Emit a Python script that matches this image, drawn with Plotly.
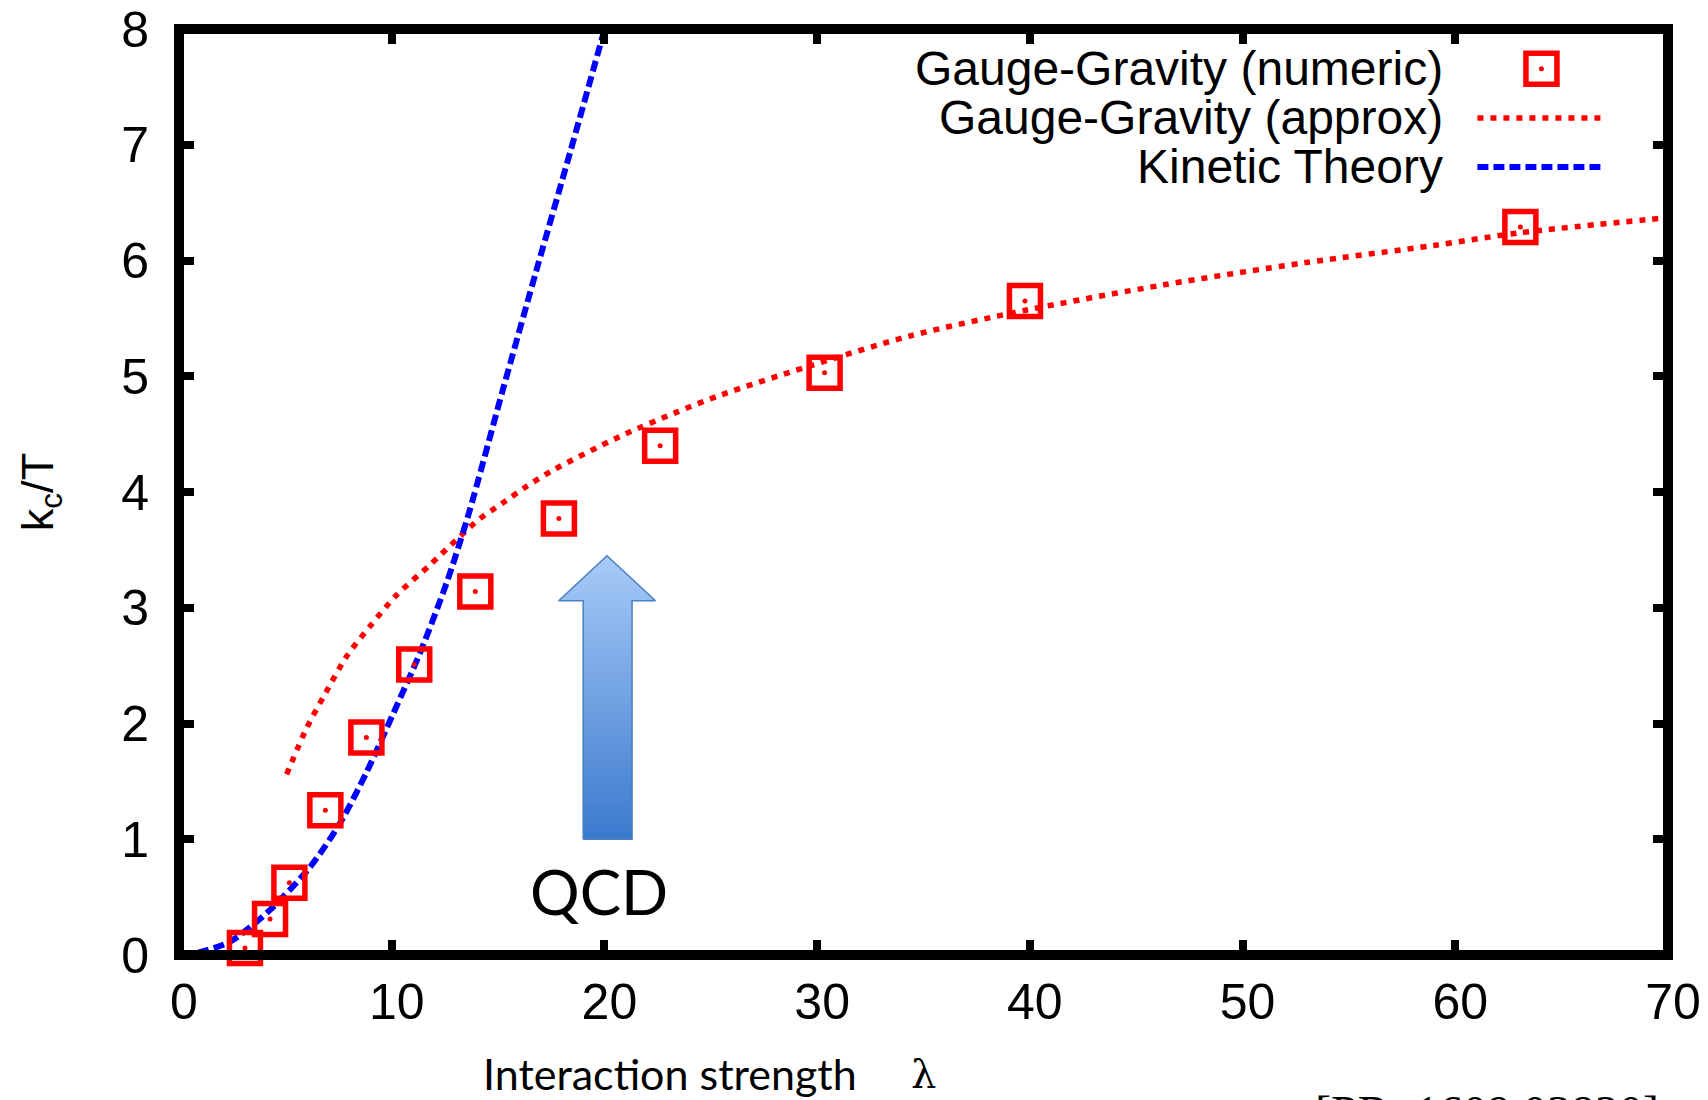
import plotly.graph_objects as go

# ---- data ----
lam_numeric = [3.1, 4.28, 5.19, 6.88, 8.81, 11.06, 13.93, 17.86, 22.62, 30.35, 39.77, 63.06]
kc_numeric = [0.06, 0.31, 0.625, 1.25, 1.88, 2.51, 3.14, 3.77, 4.40, 5.03, 5.65, 6.29]

lam_approx = [5.06, 6.0, 6.79, 7.88, 8.98, 10.23, 11.8, 13.06, 14.15, 15.18, 16.35, 17.6,
              20.73, 23.4, 25.5, 29.5, 34.4, 39.8, 46.3, 52.9, 59.0, 63.05, 70.0]
kc_approx = [1.56, 1.96, 2.23, 2.58, 2.84, 3.11, 3.37, 3.59, 3.77, 3.90, 4.05, 4.19,
             4.48, 4.69, 4.84, 5.08, 5.35, 5.57, 5.79, 5.98, 6.13, 6.24, 6.37]

lam_kinetic = [0.9, 2.4, 4.28, 6.16, 7.57, 8.82, 10.08, 11.33, 12.59, 13.6, 15.25, 16.81, 18.38, 19.95]
kc_kinetic = [0.02, 0.115, 0.39, 0.76, 1.14, 1.58, 2.09, 2.61, 3.22, 3.80, 4.90, 5.92, 6.93, 7.96]

legend_names = ["Gauge-Gravity (numeric)", "Gauge-Gravity (approx)", "Kinetic Theory"]
x_ticks = [0, 10, 20, 30, 40, 50, 60, 70]
y_ticks = [0, 1, 2, 3, 4, 5, 6, 7, 8]

# QCD arrow annotation geometry (axis units)
arrow_x = [19.0, 21.3, 21.3, 22.4, 20.12, 17.85, 19.0, 19.0]
arrow_y = [1.0, 1.0, 3.06, 3.06, 3.45, 3.06, 3.06, 1.0]

RED = "#ff0000"
BLUE = "#0000ff"
GP_FONT = "Liberation Sans, Arial, Helvetica, sans-serif"
RED_DASH = "6px,7px"
BLUE_DASH = "11px,5px"

fig = go.Figure()

fig.add_trace(go.Scatter(
    x=arrow_x, y=arrow_y, mode="lines", fill="toself",
    line=dict(color="#4a7fc4", width=1.5),
    fillgradient=dict(type="vertical",
                      colorscale=[[0, "#3b79cd"], [1, "#a8cbf8"]]),
    hoverinfo="skip", showlegend=False))

fig.add_trace(go.Scatter(
    x=lam_approx, y=kc_approx, mode="lines", name=legend_names[1],
    line=dict(color=RED, width=5.5, dash=RED_DASH, shape="spline", smoothing=0.8),
    showlegend=False))

fig.add_trace(go.Scatter(
    x=lam_kinetic, y=kc_kinetic, mode="lines", name=legend_names[2],
    line=dict(color=BLUE, width=6, dash=BLUE_DASH, shape="spline", smoothing=0.8),
    showlegend=False))

fig.add_trace(go.Scatter(
    x=lam_numeric, y=kc_numeric, mode="markers", name=legend_names[0],
    marker=dict(symbol="square-open", size=31, color=RED,
                line=dict(color=RED, width=5.5)),
    cliponaxis=False, showlegend=False))
# centre dots of the numeric markers
fig.add_trace(go.Scatter(
    x=lam_numeric, y=kc_numeric, mode="markers",
    marker=dict(symbol="circle", size=5, color=RED, line=dict(width=0)),
    cliponaxis=False, hoverinfo="skip", showlegend=False))

# ---- manual legend (text left of the samples, like gnuplot) ----
row_y = [0.957, 0.904, 0.851]
text_x = 0.850
for name, yy in zip(legend_names, row_y):
    fig.add_annotation(x=text_x, y=yy, xref="paper", yref="paper", text=name,
                       showarrow=False, xanchor="right", yanchor="middle",
                       font=dict(family=GP_FONT, size=48, color="black"))

shapes = []
# numeric marker sample
shapes.append(dict(type="rect", xref="paper", yref="paper", xsizemode="pixel", ysizemode="pixel",
                   xanchor=0.915, yanchor=row_y[0], x0=-15.5, x1=15.5, y0=-15.5, y1=15.5,
                   line=dict(color=RED, width=5.5), fillcolor="rgba(0,0,0,0)"))
shapes.append(dict(type="circle", xref="paper", yref="paper", xsizemode="pixel", ysizemode="pixel",
                   xanchor=0.915, yanchor=row_y[0], x0=-2.5, x1=2.5, y0=-2.5, y1=2.5,
                   line=dict(color=RED, width=0), fillcolor=RED))
shapes.append(dict(type="line", xref="paper", yref="paper", x0=0.872, x1=0.958,
                   y0=row_y[1], y1=row_y[1], line=dict(color=RED, width=5.5, dash=RED_DASH)))
shapes.append(dict(type="line", xref="paper", yref="paper", x0=0.872, x1=0.958,
                   y0=row_y[2], y1=row_y[2], line=dict(color=BLUE, width=6, dash=BLUE_DASH)))
# frame (centred on plot edges like gnuplot's border)
shapes.append(dict(type="rect", xref="paper", yref="paper", x0=0, x1=1, y0=0, y1=1,
                   line=dict(color="black", width=10), fillcolor="rgba(0,0,0,0)", layer="above"))

fig.update_layout(shapes=shapes)

# QCD label
fig.add_annotation(x=19.75, y=0.55, xref="x", yref="y", text="QCD", showarrow=False,
                   xanchor="center", yanchor="middle",
                   font=dict(family="Lato, Open Sans, sans-serif", size=62, color="black"))

# x axis title pieces
fig.add_annotation(x=0.203, y=-0.128, xref="paper", yref="paper", text="Interaction strength",
                   showarrow=False, xanchor="left", yanchor="middle",
                   font=dict(family="Lato, Open Sans, sans-serif", size=43, color="black"))
fig.add_annotation(x=0.500, y=-0.128, xref="paper", yref="paper", text="λ",
                   showarrow=False, xanchor="center", yanchor="middle",
                   font=dict(family="DejaVu Serif, Liberation Serif, serif", size=40, color="black"))

# citation, mostly cut off at the bottom edge (as in the reference)
fig.add_annotation(x=0.995, y=-0.139, xref="paper", yref="paper", text="[PR: 1609.03820]",
                   showarrow=False, xanchor="right", yanchor="top",
                   font=dict(family="Liberation Serif, Times New Roman, serif", size=48, color="black"))

fig.update_xaxes(range=[0, 70], tickvals=x_ticks, ticktext=[str(v) for v in x_ticks],
                 ticks="inside", ticklen=15, tickwidth=8, tickcolor="black", mirror="ticks",
                 showline=False, showgrid=False, zeroline=False, ticklabelstandoff=13,
                 ticklabelshift=5, automargin=False,
                 tickfont=dict(family=GP_FONT, size=50, color="black"))
fig.update_yaxes(range=[0, 8], tickvals=y_ticks, ticktext=[str(v) for v in y_ticks],
                 ticks="inside", ticklen=15, tickwidth=8, tickcolor="black", mirror="ticks",
                 showline=False, showgrid=False, zeroline=False, ticklabelstandoff=29,
                 automargin=False,
                 tickfont=dict(family=GP_FONT, size=50, color="black"),
                 title=dict(text="k<sub>c</sub>/T", standoff=53,
                            font=dict(family=GP_FONT, size=45, color="black")))

fig.update_layout(width=1708, height=1100, autosize=False,
                  margin=dict(l=179, r=40, t=29, b=145, pad=0, autoexpand=False),
                  paper_bgcolor="white", plot_bgcolor="white", showlegend=False)

fig.write_html("out.html")
